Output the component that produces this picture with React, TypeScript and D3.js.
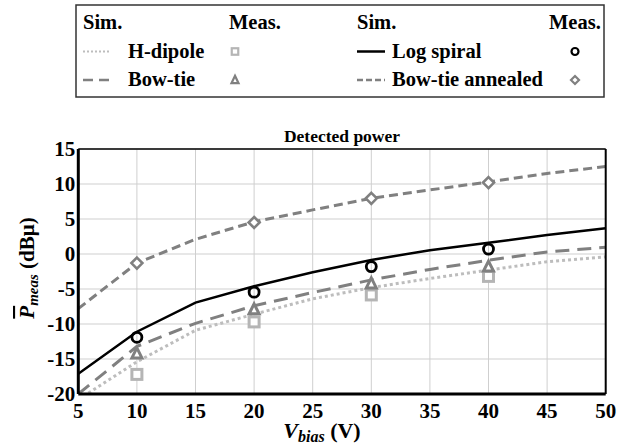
import React from "react";
import * as d3 from "d3";

const vSim = [5, 10, 15, 20, 25, 30, 35, 40, 45, 50];
const simLogSpiral = [-17.1, -11.1, -6.95, -4.6, -2.6, -0.85, 0.55, 1.62, 2.7, 3.67];
const simBowTie = [-20, -13.2, -9.9, -7.4, -5.5, -3.7, -2.2, -0.9, 0.3, 0.95];
const simHDipole = [-20.8, -15.4, -10.9, -8.6, -6.4, -4.8, -3.5, -2.3, -1.1, -0.4];
const simAnnealed = [-7.8, -1.3, 2.1, 4.6, 6.3, 7.95, 9.15, 10.3, 11.5, 12.5];

const vMeas = [10, 20, 30, 40];
const measLogSpiral = [-11.9, -5.45, -1.8, 0.7];
const measBowTie = [-14.2, -7.9, -4.2, -1.8];
const measHDipole = [-17.2, -9.7, -5.85, -3.2];
const measAnnealed = [-1.3, 4.5, 7.95, 10.2];

const xTicks = [5, 10, 15, 20, 25, 30, 35, 40, 45, 50];
const yTicks = [-20, -15, -10, -5, 0, 5, 10, 15];

const FONT = "'Liberation Serif', 'Times New Roman', serif";

const x = d3.scaleLinear().domain([5, 50]).range([78.3, 605.7]);
const y = d3.scaleLinear().domain([-20, 15]).range([394, 149]);

const lineGen = d3
  .line<[number, number]>()
  .x((d) => x(d[0]))
  .y((d) => y(d[1]));

const zip = (xs: number[], ys: number[]) => xs.map((v, i) => [v, ys[i]] as [number, number]);

const DIPOLE = "#bdbdbd";
const GRAY = "#808080";

const styles = {
  dipole: { stroke: DIPOLE, strokeWidth: 3, strokeDasharray: "3 3" },
  bowtie: { stroke: GRAY, strokeWidth: 3, strokeDasharray: "14 8" },
  spiral: { stroke: "#000", strokeWidth: 2.5, strokeDasharray: undefined as any },
  annealed: { stroke: GRAY, strokeWidth: 3, strokeDasharray: "9 5" },
};

function Square({ cx, cy, s }: { cx: number; cy: number; s: number }) {
  return (
    <rect x={cx - s / 2} y={cy - s / 2} width={s} height={s} fill="#fff" stroke="#b5b5b5" strokeWidth={s > 8 ? 3 : 2.2} />
  );
}
function Triangle({ cx, cy, s }: { cx: number; cy: number; s: number }) {
  const h = s * 0.9;
  const p = `M${cx},${cy - h / 2 - 1} L${cx + s / 2},${cy + h / 2} L${cx - s / 2},${cy + h / 2} Z`;
  return <path d={p} fill="#fff" stroke={GRAY} strokeWidth={s > 8 ? 3 : 2.2} strokeLinejoin="miter" />;
}
function Circle({ cx, cy, s }: { cx: number; cy: number; s: number }) {
  return <circle cx={cx} cy={cy} r={s / 2} fill="none" stroke="#000" strokeWidth={s > 8 ? 2.8 : 2.2} />;
}
function Diamond({ cx, cy, s }: { cx: number; cy: number; s: number }) {
  const r = s / 2;
  const p = `M${cx},${cy - r} L${cx + r},${cy} L${cx},${cy + r} L${cx - r},${cy} Z`;
  return <path d={p} fill="#fff" stroke={GRAY} strokeWidth={s > 8 ? 2.6 : 2.2} />;
}

export default function App() {
  const [x0, x1] = x.range();
  const [y0, y1] = [y(15), y(-20)];
  return (
    <svg
      width={629}
      height={444}
      style={{ position: "absolute", left: 0, top: 0, background: "#fff", fontFamily: FONT }}
    >
      <rect width={629} height={444} fill="#fff" />
      {/* Legend */}
      <g>
        <rect x={76} y={5} width={528} height={92} fill="#fff" stroke="#333" strokeWidth={1.5} />
        <g fontSize={20.5} fontWeight="bold" fill="#000">
          <text x={83} y={29}>Sim.</text>
          <text x={229} y={29}>Meas.</text>
          <text x={357} y={29}>Sim.</text>
          <text x={549} y={29}>Meas.</text>
          <text x={128} y={58}>H-dipole</text>
          <text x={128} y={86}>Bow-tie</text>
          <text x={392} y={58}>Log spiral</text>
          <text x={392} y={86}>Bow-tie annealed</text>
        </g>
        <line x1={83} x2={111} y1={51.5} y2={51.5} {...styles.dipole} strokeWidth={2} strokeDasharray="2 2" />
        <line x1={83} x2={111} y1={80} y2={80} {...styles.bowtie} strokeWidth={2.5} strokeDasharray="10 6" />
        <line x1={357} x2={385} y1={51.5} y2={51.5} {...styles.spiral} />
        <line x1={357} x2={385} y1={80} y2={80} {...styles.annealed} strokeWidth={2.5} strokeDasharray="6 3" />
        <Square cx={235} cy={51.5} s={6.5} />
        <Triangle cx={235} cy={80} s={7} />
        <Circle cx={575} cy={51.5} s={7} />
        <Diamond cx={575} cy={80} s={8} />
      </g>

      {/* Title */}
      <text x={(x0 + x1) / 2} y={142} textAnchor="middle" fontSize={17.5} fontWeight="bold">
        Detected power
      </text>

      {/* Grid */}
      <g stroke="#cfcfcf" strokeWidth={1}>
        {xTicks.map((t) => (
          <line key={"gx" + t} x1={x(t)} x2={x(t)} y1={y0} y2={y1} />
        ))}
        {yTicks.map((t) => (
          <line key={"gy" + t} x1={x0} x2={x1} y1={y(t)} y2={y(t)} />
        ))}
      </g>

      {/* Plot clip */}
      <defs>
        <clipPath id="plotclip">
          <rect x={x0} y={y0} width={x1 - x0} height={y1 - y0} />
        </clipPath>
      </defs>

      <g clipPath="url(#plotclip)" fill="none">
        <path d={lineGen(zip(vSim, simHDipole)) || ""} {...styles.dipole} />
        <path d={lineGen(zip(vSim, simBowTie)) || ""} {...styles.bowtie} />
        <path d={lineGen(zip(vSim, simAnnealed)) || ""} {...styles.annealed} />
        <path d={lineGen(zip(vSim, simLogSpiral)) || ""} {...styles.spiral} />
      </g>

      {/* Measured markers */}
      <g>
        {vMeas.map((v, i) => (
          <Square key={"sq" + i} cx={x(v)} cy={y(measHDipole[i])} s={10} />
        ))}
        {vMeas.map((v, i) => (
          <Triangle key={"tr" + i} cx={x(v)} cy={y(measBowTie[i])} s={10} />
        ))}
        {vMeas.map((v, i) => (
          <Diamond key={"di" + i} cx={x(v)} cy={y(measAnnealed[i])} s={11} />
        ))}
        {vMeas.map((v, i) => (
          <Circle key={"ci" + i} cx={x(v)} cy={y(measLogSpiral[i])} s={10} />
        ))}
      </g>

      {/* Frame */}
      <line x1={x0} x2={x1} y1={y0} y2={y0} stroke="#000" strokeWidth={1.5} />
      <line x1={x1} x2={x1} y1={y0} y2={y1} stroke="#000" strokeWidth={2} />
      <line x1={x0} x2={x1} y1={y1} y2={y1} stroke="#000" strokeWidth={3} />
      <line x1={x0} x2={x0} y1={y0} y2={y1} stroke="#000" strokeWidth={3} />

      {/* Tick labels */}
      <g fontSize={21} fontWeight="bold" fill="#000">
        {xTicks.map((t) => (
          <text key={"xt" + t} x={x(t)} y={y1 + 24} textAnchor="middle">
            {t}
          </text>
        ))}
        {yTicks.map((t) => (
          <text key={"yt" + t} x={x0 - 3} y={y(t) + 7} textAnchor="end">
            {t}
          </text>
        ))}
      </g>

      {/* X label */}
      <text x={322} y={438} textAnchor="middle" fontSize={22} fontWeight="bold">
        <tspan fontStyle="italic">V</tspan>
        <tspan fontStyle="italic" fontSize={16} dy={4}>bias</tspan>
        <tspan dy={-4}> (V)</tspan>
      </text>

      {/* Y label */}
      <g transform="translate(34,268) rotate(-90)">
        <text x={0} y={0} textAnchor="middle" fontSize={21} fontWeight="bold">
          <tspan fontStyle="italic" style={{ textDecoration: "overline" }}>P</tspan>
          <tspan fontStyle="italic" fontSize={15} dy={4}>meas</tspan>
          <tspan dy={-4}> (dBμ)</tspan>
        </text>
      </g>
    </svg>
  );
}
